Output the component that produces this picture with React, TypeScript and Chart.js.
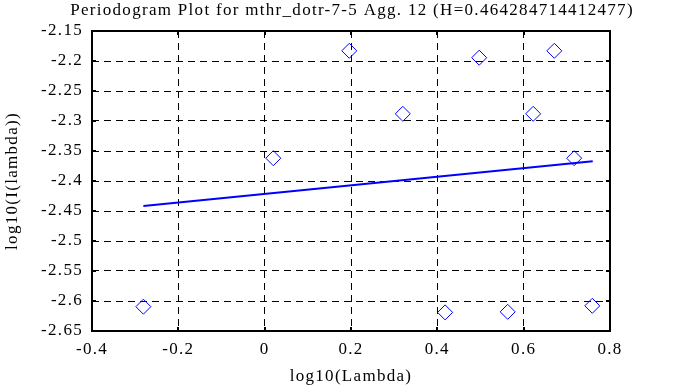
import React, { useEffect, useRef } from "react";
import { Chart, registerables } from "chart.js";

Chart.register(...registerables);

const TITLE = "Periodogram Plot for mthr_dotr-7-5 Agg. 12 (H=0.464284714412477)";
const X_LABEL = "log10(Lambda)";
const Y_LABEL = "log10(I(lambda))";

const xVals = [-0.281, 0.02, 0.196, 0.32, 0.418, 0.497, 0.563, 0.622, 0.671, 0.717, 0.759];
const yVals = [-2.6095, -2.362, -2.183, -2.288, -2.619, -2.1945, -2.618, -2.288, -2.183, -2.362, -2.608];

const fitX = [-0.281, 0.76];
const fitY = [-2.4417, -2.367];

const X_MIN = -0.4;
const X_MAX = 0.8;
const X_STEP = 0.2;
const Y_MIN = -2.65;
const Y_MAX = -2.15;
const Y_STEP = 0.05;

const FONT = "'Liberation Serif', 'DejaVu Serif', serif";
const FONT_SIZE = 17;
const SPACING = "1.3px";
const BLUE = "#0000ff";

const fmt = (v: number | string) => {
  const n = Number(v);
  const r = parseFloat(n.toFixed(2));
  return String(r === 0 ? 0 : r);
};

const framePlugin = {
  id: "frameAndTitle",
  beforeDraw(chart: any) {
    (chart.ctx as any).letterSpacing = SPACING;
  },
  afterDraw(chart: any) {
    const { ctx, chartArea } = chart;
    const { left, right, top, bottom } = chartArea;
    ctx.save();
    ctx.strokeStyle = "#000";
    ctx.lineWidth = 2;
    const xs = chart.scales.x;
    const ys = chart.scales.y;
    const tl = 4;
    xs.ticks.forEach((t: any) => {
      const px = Math.round(xs.getPixelForValue(t.value));
      ctx.beginPath();
      ctx.moveTo(px, bottom);
      ctx.lineTo(px, bottom - tl);
      ctx.moveTo(px, top);
      ctx.lineTo(px, top + tl);
      ctx.stroke();
    });
    ys.ticks.forEach((t: any) => {
      const py = Math.round(ys.getPixelForValue(t.value));
      ctx.beginPath();
      ctx.moveTo(left, py);
      ctx.lineTo(left + tl, py);
      ctx.moveTo(right, py);
      ctx.lineTo(right - tl, py);
      ctx.stroke();
    });
    ctx.lineWidth = 2;
    ctx.strokeRect(left, top, right - left, bottom - top);
    ctx.fillStyle = "#000";
    ctx.font = `${FONT_SIZE}px ${FONT}`;
    (ctx as any).letterSpacing = SPACING;
    ctx.textAlign = "center";
    ctx.textBaseline = "middle";
    ctx.fillText(TITLE, (left + right) / 2 + 1, 11);
    ctx.restore();
  },
};

export default function App() {
  const ref = useRef<HTMLCanvasElement | null>(null);

  useEffect(() => {
    if (!ref.current) return;
    const scatterData = xVals.map((x, i) => ({ x, y: yVals[i] }));
    const lineData = fitX.map((x, i) => ({ x, y: fitY[i] }));
    const chart = new Chart(ref.current, {
      type: "scatter",
      data: {
        datasets: [
          {
            type: "line",
            data: lineData,
            borderColor: BLUE,
            borderWidth: 2,
            pointRadius: 0,
            fill: false,
            showLine: true,
            order: 2,
          } as any,
          {
            type: "scatter",
            data: scatterData,
            pointStyle: "rectRot",
            pointRadius: 7.5,
            pointBorderColor: BLUE,
            pointBackgroundColor: "rgba(0,0,0,0)",
            pointBorderWidth: 1,
            borderColor: BLUE,
            backgroundColor: "rgba(0,0,0,0)",
            order: 1,
          } as any,
        ],
      },
      options: {
        responsive: false,
        animation: false,
        devicePixelRatio: 1,
        layout: { padding: { top: 31, right: 68, left: 0, bottom: 0 } },
        plugins: {
          legend: { display: false },
          tooltip: { enabled: false },
          title: { display: false },
        },
        scales: {
          x: {
            type: "linear",
            min: X_MIN,
            max: X_MAX,
            ticks: {
              stepSize: X_STEP,
              color: "#000",
              font: { family: FONT, size: FONT_SIZE },
              padding: 8,
              maxRotation: 0,
              autoSkip: false,
              callback: (v: any) => fmt(v),
            },
            grid: {
              color: "#000",
              lineWidth: 1,
              drawTicks: false,
            },
            border: { display: false, dash: [7, 5] },
            title: {
              display: true,
              text: X_LABEL,
              color: "#000",
              font: { family: FONT, size: FONT_SIZE },
              padding: { top: 0, bottom: 0 },
            },
            afterFit: (s: any) => {
              s.height = 56;
            },
          },
          y: {
            type: "linear",
            min: Y_MIN,
            max: Y_MAX,
            ticks: {
              stepSize: Y_STEP,
              color: "#000",
              font: { family: FONT, size: FONT_SIZE },
              padding: 9,
              autoSkip: false,
              callback: (v: any) => fmt(v),
            },
            grid: {
              color: "#000",
              lineWidth: 1,
              drawTicks: false,
            },
            border: { display: false, dash: [7, 5] },
            title: {
              display: true,
              text: Y_LABEL,
              color: "#000",
              font: { family: FONT, size: FONT_SIZE },
              padding: { top: 2, bottom: 0 },
            },
            afterFit: (s: any) => {
              s.width = 92;
            },
          },
        },
      } as any,
      plugins: [framePlugin],
    });
    return () => chart.destroy();
  }, []);

  return (
    <div style={{ position: "fixed", left: 0, top: 0, width: 678, height: 387, background: "#fff" }}>
      <canvas ref={ref} width={678} height={387} style={{ width: 678, height: 387, display: "block" }} />
    </div>
  );
}
